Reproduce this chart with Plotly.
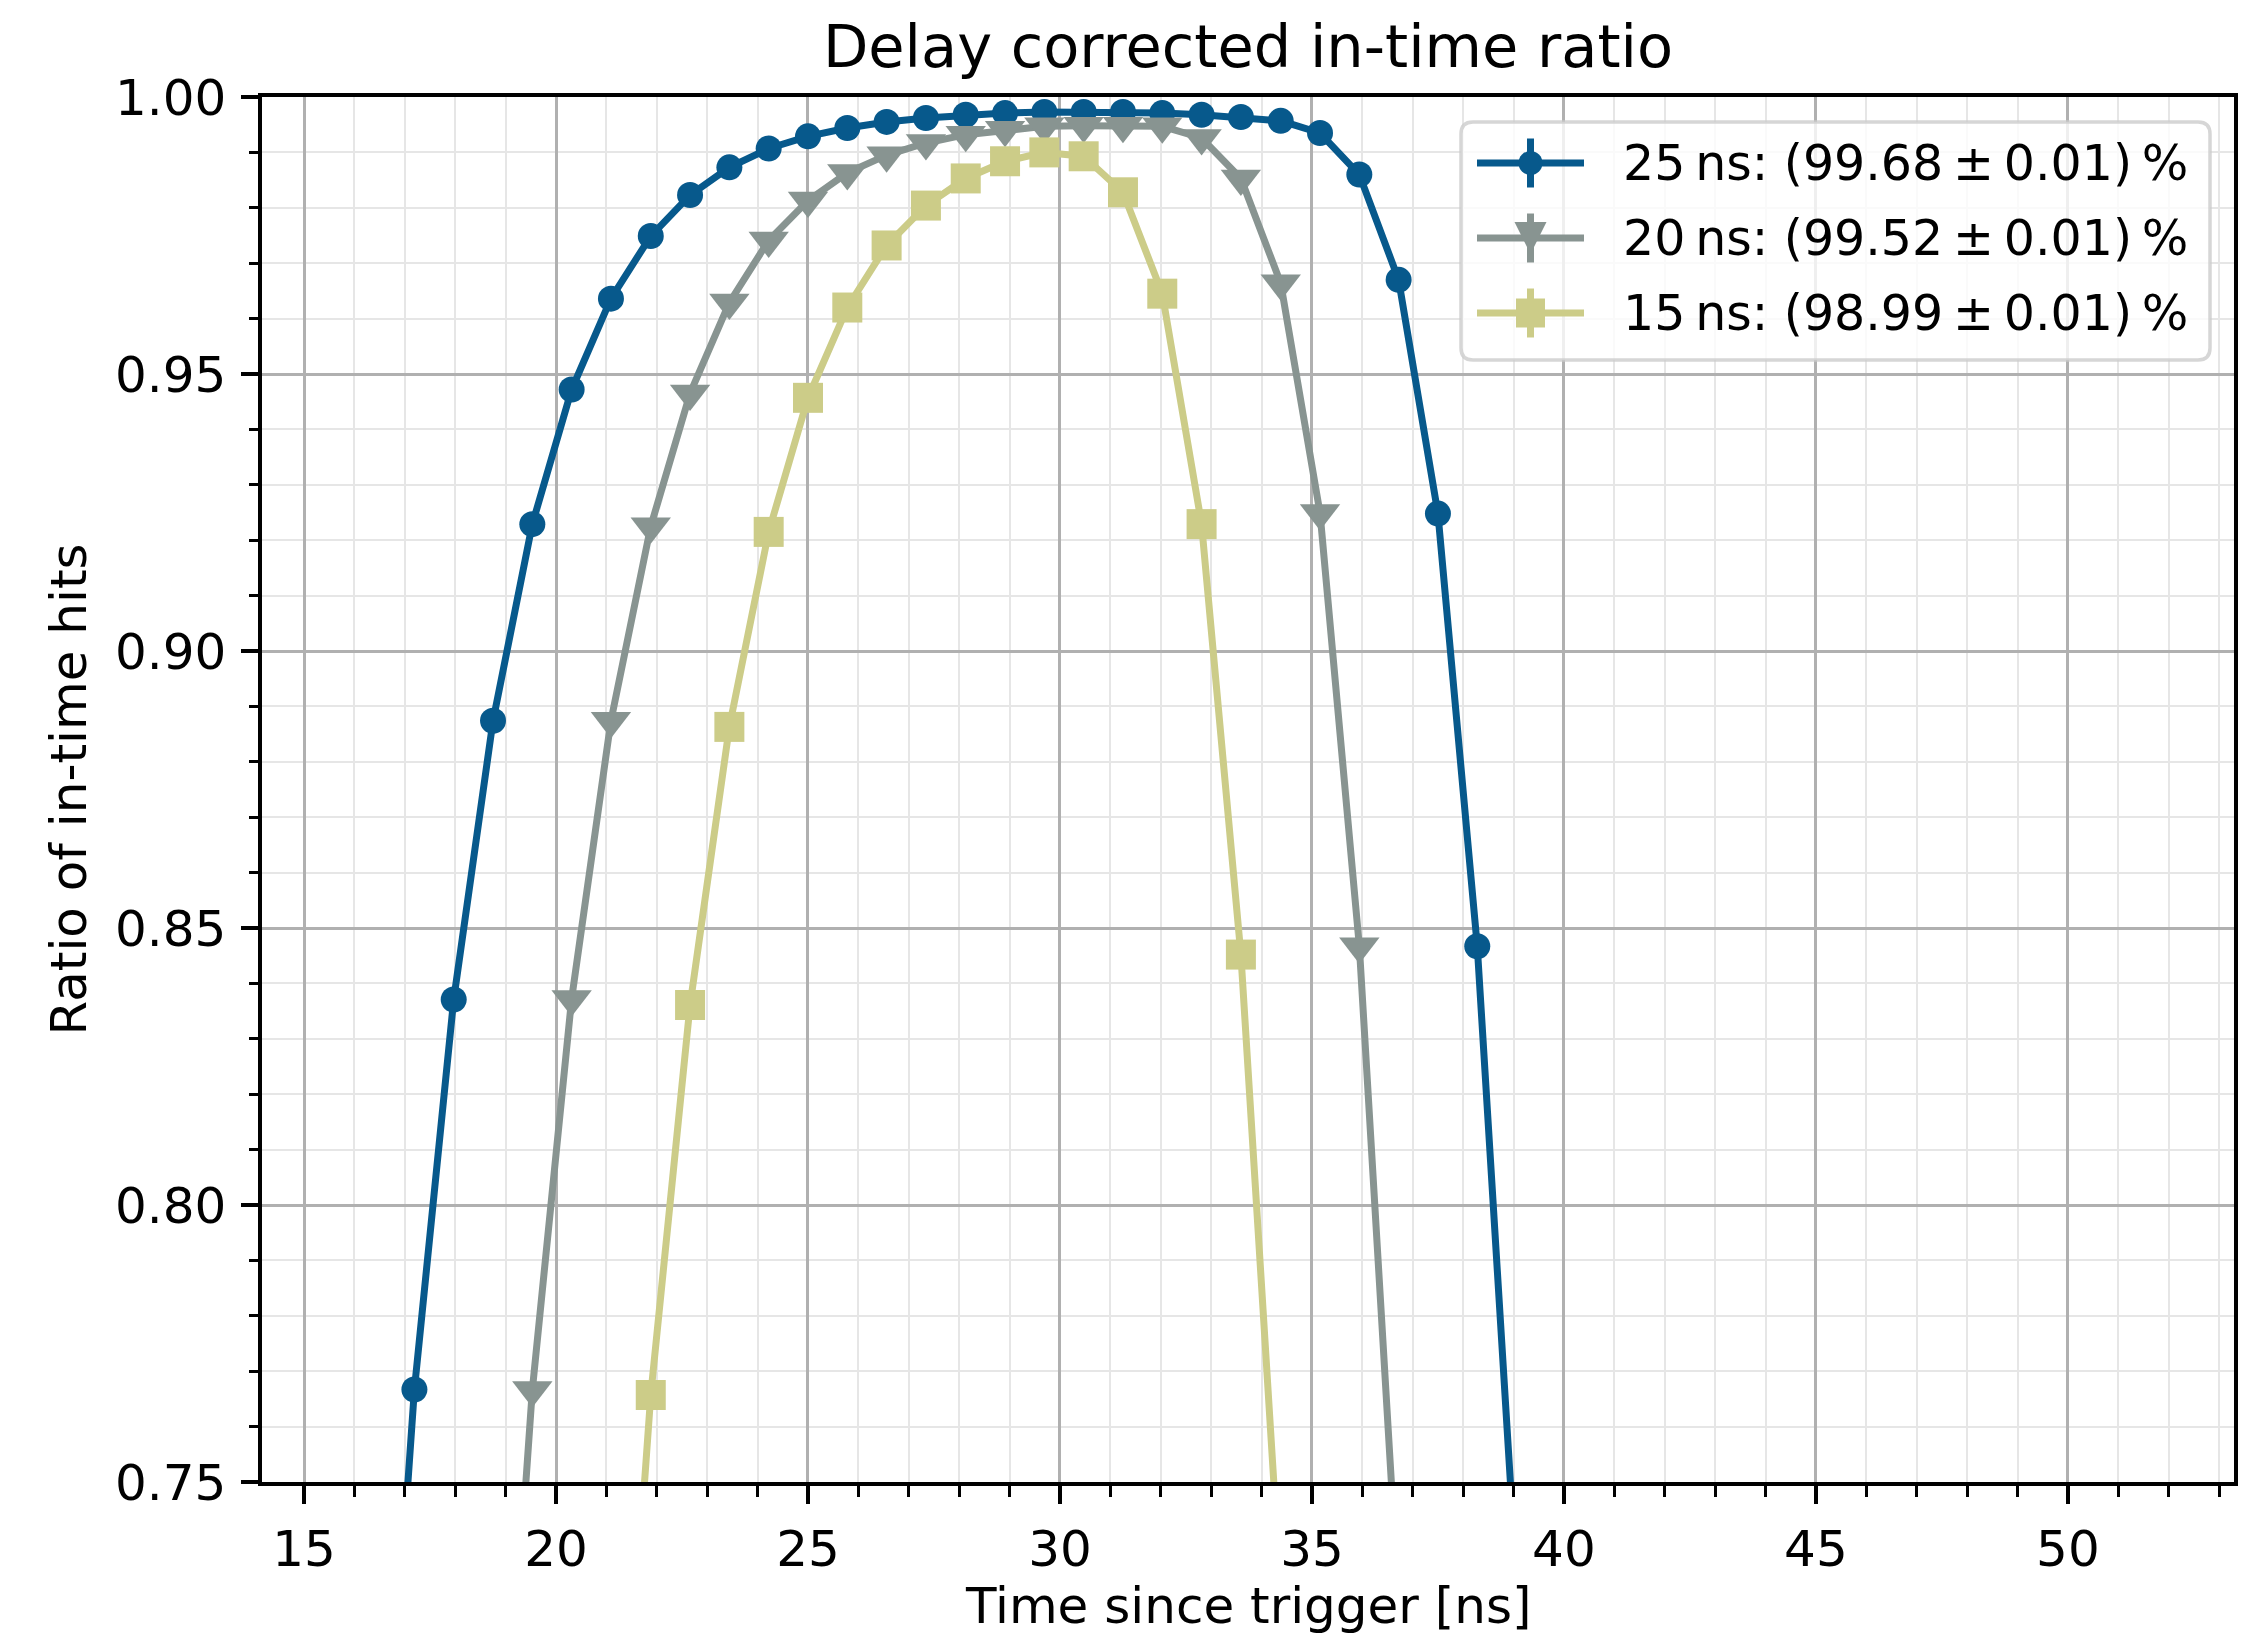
import plotly.graph_objects as go

# Time since trigger [ns] for each delay window
time_25 = [16.41, 17.19, 17.97, 18.75, 19.53, 20.31, 21.09, 21.88, 22.66, 23.44,
           24.22, 25.00, 25.78, 26.56, 27.34, 28.13, 28.91, 29.69, 30.47, 31.25,
           32.03, 32.81, 33.59, 34.38, 35.16, 35.94, 36.72, 37.50, 38.28, 39.06]
time_20 = [18.75, 19.53, 20.31, 21.09, 21.88, 22.66, 23.44, 24.22, 25.00, 25.78,
           26.56, 27.34, 28.13, 28.91, 29.69, 30.47, 31.25, 32.03, 32.81, 33.59,
           34.38, 35.16, 35.94, 36.72]
time_15 = [21.09, 21.88, 22.66, 23.44, 24.22, 25.00, 25.78, 26.56, 27.34, 28.13,
           28.91, 29.69, 30.47, 31.25, 32.03, 32.81, 33.59, 34.38]

# Ratio of in-time hits
ratio_25 = [0.665, 0.7667, 0.8371, 0.8874, 0.9229, 0.9472, 0.9636, 0.9749, 0.9823, 0.9873,
            0.9907, 0.9929, 0.9944, 0.9955, 0.9962, 0.9968, 0.9971, 0.9973, 0.9973, 0.9973,
            0.9971, 0.9968, 0.9964, 0.9957, 0.9935, 0.9860, 0.9670, 0.9248, 0.8467, 0.732]
ratio_20 = [0.665, 0.7666, 0.8372, 0.8874, 0.9225, 0.9465, 0.9629, 0.9741, 0.9813, 0.9863,
            0.9895, 0.9917, 0.9932, 0.9941, 0.9947, 0.9948, 0.9948, 0.9947, 0.9926, 0.9853,
            0.9664, 0.9249, 0.8467, 0.728]
ratio_15 = [0.665, 0.7657, 0.8361, 0.8863, 0.9215, 0.9457, 0.9620, 0.9732, 0.9804, 0.9853,
            0.9884, 0.9900, 0.9893, 0.9828, 0.9645, 0.9229, 0.8452, 0.730]

TS = "\u2009"
labels = [f"25{TS}ns: (99.68{TS}±{TS}0.01){TS}%",
          f"20{TS}ns: (99.52{TS}±{TS}0.01){TS}%",
          f"15{TS}ns: (98.99{TS}±{TS}0.01){TS}%"]
colors = ["#07598c", "#889491", "#cccc88"]
symbols = ["circle", "triangle-down", "square"]
marker_sizes = [26, 35, 30]

x_range = [14.166, 53.296]
y_range = [0.75, 1.0]

W, H = 2249, 1634
PL, PR, PT, PB = 262, 2234, 97, 1482
FONT = "DejaVu Sans"
LINE_W = 7

fig = go.Figure()
series = [(time_25, ratio_25), (time_20, ratio_20), (time_15, ratio_15)]
for (tx, ry), lab, col, sym, ms in zip(series, labels, colors, symbols, marker_sizes):
    fig.add_trace(go.Scatter(
        x=tx, y=ry, name=lab, mode="lines+markers",
        line=dict(color=col, width=LINE_W),
        marker=dict(symbol=sym, size=ms, color=col, line=dict(width=0)),
        showlegend=False,
    ))


def px_x(p):
    return (p - PL) / (PR - PL)


def px_y(p):
    return (PB - p) / (PB - PT)


shapes = []
annotations = []

# legend frame with rounded corners
bx0, bx1, byt, byb = px_x(1461), px_x(2210), px_y(122), px_y(360)
rx, ry_ = 12 / (PR - PL), 12 / (PB - PT)
frame = (f"M {bx0+rx},{byt} L {bx1-rx},{byt} Q {bx1},{byt} {bx1},{byt-ry_} "
         f"L {bx1},{byb+ry_} Q {bx1},{byb} {bx1-rx},{byb} L {bx0+rx},{byb} "
         f"Q {bx0},{byb} {bx0},{byb+ry_} L {bx0},{byt-ry_} Q {bx0},{byt} {bx0+rx},{byt} Z")
shapes.append(dict(type="path", path=frame, xref="paper", yref="paper", layer="above",
                   fillcolor="rgba(255,255,255,0.8)", line=dict(color="rgba(204,204,204,0.8)", width=3.5)))

rows = [163, 238, 313]
gx0, gx1, gcx = 1477, 1584, 1530.5
for row, col, sym, lab in zip(rows, colors, symbols, labels):
    shapes.append(dict(type="line", xref="paper", yref="paper", layer="above",
                       x0=px_x(gx0), x1=px_x(gx1), y0=px_y(row), y1=px_y(row),
                       line=dict(color=col, width=LINE_W)))
    shapes.append(dict(type="line", xref="paper", yref="paper", layer="above",
                       x0=px_x(gcx), x1=px_x(gcx), y0=px_y(row - 24.5), y1=px_y(row + 24.5),
                       line=dict(color=col, width=LINE_W)))
    if sym == "circle":
        r = 12
        shapes.append(dict(type="circle", xref="paper", yref="paper", layer="above",
                           x0=px_x(gcx - r), x1=px_x(gcx + r), y0=px_y(row + r), y1=px_y(row - r),
                           fillcolor=col, line=dict(width=0)))
    elif sym == "triangle-down":
        h = 16
        p = (f"M {px_x(gcx-h)},{px_y(row-h)} L {px_x(gcx+h)},{px_y(row-h)} "
             f"L {px_x(gcx)},{px_y(row+h)} Z")
        shapes.append(dict(type="path", path=p, xref="paper", yref="paper", layer="above",
                           fillcolor=col, line=dict(width=0)))
    else:
        h = 14.5
        shapes.append(dict(type="rect", xref="paper", yref="paper", layer="above",
                           x0=px_x(gcx - h), x1=px_x(gcx + h), y0=px_y(row + h), y1=px_y(row - h),
                           fillcolor=col, line=dict(width=0)))
    annotations.append(dict(text=lab, xref="paper", yref="paper", x=px_x(1621), y=px_y(row),
                            xanchor="left", yanchor="middle", showarrow=False,
                            font=dict(family=FONT, size=49, color="black")))

# axis titles
annotations.append(dict(text="Time since trigger [ns]", xref="paper", yref="paper",
                        x=0.5, y=px_y(1606), xanchor="center", yanchor="middle", showarrow=False,
                        font=dict(family=FONT, size=50, color="black")))
annotations.append(dict(text="Ratio of in-time hits", xref="paper", yref="paper",
                        x=px_x(68), y=0.5, xanchor="center", yanchor="middle", textangle=-90,
                        showarrow=False, font=dict(family=FONT, size=50, color="black")))

axis_common = dict(
    showline=True, linecolor="black", linewidth=3.5, mirror=True,
    ticks="outside", tickcolor="black", tickwidth=3.5,
    showgrid=True, gridcolor="#b0b0b0", gridwidth=2.8,
    zeroline=False,
    tickfont=dict(family=FONT, size=50, color="black"),
)

fig.update_layout(
    width=W, height=H,
    margin=dict(l=PL, r=W - PR, t=PT, b=H - PB),
    paper_bgcolor="white", plot_bgcolor="white",
    title=dict(text="Delay corrected in-time ratio", x=0.5, xref="paper", xanchor="center",
               y=1 - 46 / H, yref="container", yanchor="middle",
               font=dict(family=FONT, size=59, color="black")),
    xaxis=dict(range=x_range, dtick=5, tick0=0, ticklen=18, ticklabelstandoff=2, **axis_common,
               minor=dict(dtick=1, ticks="outside", ticklen=11, tickwidth=2.5, tickcolor="black",
                          showgrid=True, gridcolor="#e6e6e6", gridwidth=1.8)),
    yaxis=dict(range=y_range, dtick=0.05, tick0=0, ticklen=17, tickformat=".2f",
               ticklabelstandoff=5, **axis_common,
               minor=dict(dtick=0.01, ticks="outside", ticklen=9, tickwidth=2.5, tickcolor="black",
                          showgrid=True, gridcolor="#e6e6e6", gridwidth=1.8)),
    shapes=shapes,
    annotations=annotations,
    showlegend=False,
)

fig.write_html("out.html")
